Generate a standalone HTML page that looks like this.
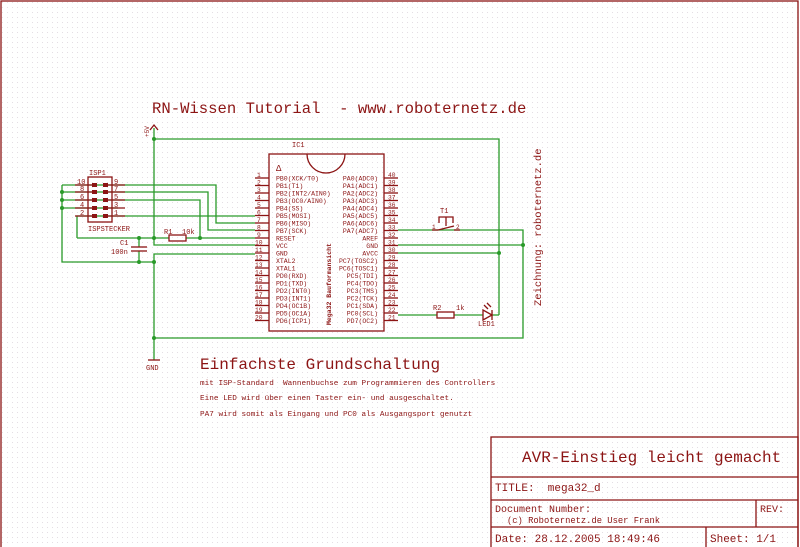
<!DOCTYPE html>
<html><head><meta charset="utf-8"><style>
html,body{margin:0;padding:0;background:#fff;}
svg{display:block;}
text{font-family:"Liberation Mono",monospace;fill:#8c1414;white-space:pre;}
.g{stroke:#2a9a2a;stroke-width:1.3;fill:none;}
.r{stroke:#8c1414;stroke-width:1.3;fill:none;}
</style></head><body>
<svg width="800" height="547" viewBox="0 0 800 547" xmlns="http://www.w3.org/2000/svg" xml:space="preserve">
<defs>
<pattern id="dots" width="5" height="5" patternUnits="userSpaceOnUse"><rect x="2" y="2" width="1" height="1" fill="#e4dde4"/></pattern>
</defs>
<rect x="0" y="0" width="800" height="547" fill="url(#dots)"/>
<rect x="1" y="1" width="797" height="560" class="r" stroke-width="1.5"/>

<text x="152" y="113" font-size="15.6">RN-Wissen Tutorial  - www.roboternetz.de</text>

<g class="g">
<polyline points="154,128 154,245 255,245"/>
<polyline points="154,139 499,139 499,315"/>
<polyline points="62,185 62,262 154,262"/>
<polyline points="62,185 216,185 216,223 255,223"/>
<polyline points="62,192 208,192 208,230 255,230"/>
<polyline points="62,200 200,200 200,238"/>
<polyline points="62,208 118,208"/>
<polyline points="77,238 77,216 255,216"/>
<polyline points="77,238 169,238"/>
<polyline points="186,238 255,238"/>
<polyline points="139,238 139,247"/>
<polyline points="139,251 139,262"/>
<polyline points="154,360 154,254 255,254"/>
<polyline points="154,338 523,338 523,230 398,230"/>
<polyline points="398,245 523,245"/>
<polyline points="398,253 499,253"/>
<polyline points="398,315 437,315"/>
<polyline points="454,315 483,315"/>
<polyline points="492,315 499,315"/>
</g>
<g fill="#2a9a2a">
<circle cx="62" cy="192" r="2"/><circle cx="62" cy="200" r="2"/><circle cx="62" cy="208" r="2"/>
<circle cx="139" cy="238" r="2"/><circle cx="154" cy="238" r="2"/><circle cx="200" cy="238" r="2"/>
<circle cx="139" cy="262" r="2"/><circle cx="154" cy="262" r="2"/><circle cx="154" cy="139" r="2"/>
<circle cx="154" cy="338" r="2"/><circle cx="523" cy="245" r="2"/><circle cx="499" cy="253" r="2"/>
</g>

<path d="M150,130 L154,125 L158,130" class="r"/>
<text x="0" y="0" font-size="6" transform="translate(149,137) rotate(-90)">+5V</text>
<line x1="148" y1="360" x2="160" y2="360" class="r" stroke-width="2"/>
<text x="146" y="370" font-size="7">GND</text>

<rect x="88" y="177" width="24" height="45" class="r"/>
<g stroke="#8c1414" stroke-width="1.3">
<line x1="75" y1="185" x2="92" y2="185"/><line x1="75" y1="192" x2="92" y2="192"/><line x1="75" y1="200" x2="92" y2="200"/><line x1="75" y1="208" x2="92" y2="208"/><line x1="75" y1="216" x2="92" y2="216"/>
<line x1="108" y1="185" x2="125" y2="185"/><line x1="108" y1="192" x2="125" y2="192"/><line x1="108" y1="200" x2="125" y2="200"/><line x1="108" y1="208" x2="125" y2="208"/><line x1="108" y1="216" x2="125" y2="216"/>
</g>
<g fill="#8c1414">
<rect x="92" y="183" width="5" height="4"/><rect x="92" y="190" width="5" height="4"/><rect x="92" y="198" width="5" height="4"/><rect x="92" y="206" width="5" height="4"/><rect x="92" y="214" width="5" height="4"/>
<rect x="103" y="183" width="5" height="4"/><rect x="103" y="190" width="5" height="4"/><rect x="103" y="198" width="5" height="4"/><rect x="103" y="206" width="5" height="4"/><rect x="103" y="214" width="5" height="4"/>
</g>
<text x="89" y="175" font-size="7">ISP1</text>
<text x="88" y="231" font-size="7">ISPSTECKER</text>
<g font-size="7">
<text x="77" y="184">10</text><text x="80" y="191">8</text><text x="80" y="199">6</text><text x="80" y="207">4</text><text x="80" y="215">2</text>
<text x="114" y="184">9</text><text x="114" y="191">7</text><text x="114" y="199">5</text><text x="114" y="207">3</text><text x="114" y="215">1</text>
</g>

<rect x="169" y="235" width="17" height="6" class="r"/>
<text x="164" y="234" font-size="7">R1</text><text x="182" y="234" font-size="7">10k</text>
<line x1="131" y1="247" x2="147" y2="247" class="r" stroke-width="2"/>
<line x1="131" y1="251" x2="147" y2="251" class="r" stroke-width="2"/>
<text x="120" y="245" font-size="7">C1</text><text x="111" y="254" font-size="7">100n</text>

<text x="292" y="147" font-size="7">IC1</text>
<rect x="269" y="154" width="115" height="177" class="r"/>
<path d="M307,154 A19,19 0 0 0 345,154" class="r"/>
<text x="276" y="171" font-size="9">Δ</text>
<text font-size="6.5" font-weight="bold" transform="translate(331,325) rotate(-90)">Mega32 Bauformansicht</text>
<g stroke="#8c1414" stroke-width="1.3">
<line x1="255" y1="178" x2="269" y2="178"/><line x1="255" y1="185.5" x2="269" y2="185.5"/><line x1="255" y1="193" x2="269" y2="193"/><line x1="255" y1="200.5" x2="269" y2="200.5"/><line x1="255" y1="208" x2="269" y2="208"/><line x1="255" y1="215.5" x2="269" y2="215.5"/><line x1="255" y1="223" x2="269" y2="223"/><line x1="255" y1="230.5" x2="269" y2="230.5"/><line x1="255" y1="238" x2="269" y2="238"/><line x1="255" y1="245.5" x2="269" y2="245.5"/><line x1="255" y1="253" x2="269" y2="253"/><line x1="255" y1="260.5" x2="269" y2="260.5"/><line x1="255" y1="268" x2="269" y2="268"/><line x1="255" y1="275.5" x2="269" y2="275.5"/><line x1="255" y1="283" x2="269" y2="283"/><line x1="255" y1="290.5" x2="269" y2="290.5"/><line x1="255" y1="298" x2="269" y2="298"/><line x1="255" y1="305.5" x2="269" y2="305.5"/><line x1="255" y1="313" x2="269" y2="313"/><line x1="255" y1="320.5" x2="269" y2="320.5"/>
<line x1="384" y1="178" x2="398" y2="178"/><line x1="384" y1="185.5" x2="398" y2="185.5"/><line x1="384" y1="193" x2="398" y2="193"/><line x1="384" y1="200.5" x2="398" y2="200.5"/><line x1="384" y1="208" x2="398" y2="208"/><line x1="384" y1="215.5" x2="398" y2="215.5"/><line x1="384" y1="223" x2="398" y2="223"/><line x1="384" y1="230.5" x2="398" y2="230.5"/><line x1="384" y1="238" x2="398" y2="238"/><line x1="384" y1="245.5" x2="398" y2="245.5"/><line x1="384" y1="253" x2="398" y2="253"/><line x1="384" y1="260.5" x2="398" y2="260.5"/><line x1="384" y1="268" x2="398" y2="268"/><line x1="384" y1="275.5" x2="398" y2="275.5"/><line x1="384" y1="283" x2="398" y2="283"/><line x1="384" y1="290.5" x2="398" y2="290.5"/><line x1="384" y1="298" x2="398" y2="298"/><line x1="384" y1="305.5" x2="398" y2="305.5"/><line x1="384" y1="313" x2="398" y2="313"/><line x1="384" y1="320.5" x2="398" y2="320.5"/>
</g>
<g font-size="6.3">
<text x="257" y="177">1</text><text x="257" y="184.5">2</text><text x="257" y="192">3</text><text x="257" y="199.5">4</text><text x="257" y="207">5</text><text x="257" y="214.5">6</text><text x="257" y="222">7</text><text x="257" y="229.5">8</text><text x="257" y="237">9</text><text x="255" y="244.5">10</text><text x="255" y="252">11</text><text x="255" y="259.5">12</text><text x="255" y="267">13</text><text x="255" y="274.5">14</text><text x="255" y="282">15</text><text x="255" y="289.5">16</text><text x="255" y="297">17</text><text x="255" y="304.5">18</text><text x="255" y="312">19</text><text x="255" y="319.5">20</text>
<text x="388" y="177">40</text><text x="388" y="184.5">39</text><text x="388" y="192">38</text><text x="388" y="199.5">37</text><text x="388" y="207">36</text><text x="388" y="214.5">35</text><text x="388" y="222">34</text><text x="388" y="229.5">33</text><text x="388" y="237">32</text><text x="388" y="244.5">31</text><text x="388" y="252">30</text><text x="388" y="259.5">29</text><text x="388" y="267">28</text><text x="388" y="274.5">27</text><text x="388" y="282">26</text><text x="388" y="289.5">25</text><text x="388" y="297">24</text><text x="388" y="304.5">23</text><text x="388" y="312">22</text><text x="388" y="319.5">21</text>
</g>
<g font-size="6.5">
<text x="276" y="180.5">PB0(XCK/T0)</text><text x="276" y="188">PB1(T1)</text><text x="276" y="195.5">PB2(INT2/AIN0)</text><text x="276" y="203">PB3(OC0/AIN0)</text><text x="276" y="210.5">PB4(SS)</text><text x="276" y="218">PB5(MOSI)</text><text x="276" y="225.5">PB6(MISO)</text><text x="276" y="233">PB7(SCK)</text><text x="276" y="240.5">RESET</text><text x="276" y="248">VCC</text><text x="276" y="255.5">GND</text><text x="276" y="263">XTAL2</text><text x="276" y="270.5">XTAL1</text><text x="276" y="278">PD0(RXD)</text><text x="276" y="285.5">PD1(TXD)</text><text x="276" y="293">PD2(INT0)</text><text x="276" y="300.5">PD3(INT1)</text><text x="276" y="308">PD4(OC1B)</text><text x="276" y="315.5">PD5(OC1A)</text><text x="276" y="323">PD6(ICP1)</text>
</g>
<g font-size="6.5" text-anchor="end">
<text x="378" y="180.5">PA0(ADC0)</text><text x="378" y="188">PA1(ADC1)</text><text x="378" y="195.5">PA2(ADC2)</text><text x="378" y="203">PA3(ADC3)</text><text x="378" y="210.5">PA4(ADC4)</text><text x="378" y="218">PA5(ADC5)</text><text x="378" y="225.5">PA6(ADC6)</text><text x="378" y="233">PA7(ADC7)</text><text x="378" y="240.5">AREF</text><text x="378" y="248">GND</text><text x="378" y="255.5">AVCC</text><text x="378" y="263">PC7(TOSC2)</text><text x="378" y="270.5">PC6(TOSC1)</text><text x="378" y="278">PC5(TDI)</text><text x="378" y="285.5">PC4(TDO)</text><text x="378" y="293">PC3(TMS)</text><text x="378" y="300.5">PC2(TCK)</text><text x="378" y="308">PC1(SDA)</text><text x="378" y="315.5">PC0(SCL)</text><text x="378" y="323">PD7(OC2)</text>
</g>

<g class="r">
<polyline points="439,223 439,217 453,217 453,223"/>
<line x1="446" y1="217" x2="446" y2="226"/>
<line x1="432" y1="230" x2="438" y2="230"/>
<line x1="438" y1="230" x2="454" y2="226"/>
<line x1="454" y1="230" x2="460" y2="230"/>
</g>
<text x="440" y="213" font-size="7">T1</text>
<text x="432" y="229" font-size="6">1</text><text x="456" y="229" font-size="6">2</text>

<rect x="437" y="312" width="17" height="6" class="r"/>
<text x="433" y="310" font-size="7">R2</text><text x="456" y="310" font-size="7">1k</text>
<path d="M483,310 L483,320 L492,315 Z" class="r"/>
<line x1="492" y1="310" x2="492" y2="320" class="r"/>
<path d="M484,305 L488,309 M487,303 L491,307" class="r" stroke-width="1"/>
<text x="478" y="326" font-size="7">LED1</text>

<text font-size="10.5" transform="translate(541,306) rotate(-90)">Zeichnung: roboternetz.de</text>

<text x="200" y="369" font-size="16">Einfachste Grundschaltung</text>
<text x="200" y="385" font-size="7.7">mit ISP-Standard  Wannenbuchse zum Programmieren des Controllers</text>
<text x="200" y="400" font-size="7.7">Eine LED wird über einen Taster ein- und ausgeschaltet.</text>
<text x="200" y="416" font-size="7.7">PA7 wird somit als Eingang und PC0 als Ausgangsport genutzt</text>

<g class="r">
<rect x="491" y="437" width="307" height="115"/>
<line x1="491" y1="477" x2="798" y2="477"/>
<line x1="491" y1="500" x2="798" y2="500"/>
<line x1="491" y1="527" x2="798" y2="527"/>
<line x1="756" y1="500" x2="756" y2="527"/>
<line x1="706" y1="527" x2="706" y2="547"/>
</g>
<text x="522" y="462" font-size="16">AVR-Einstieg leicht gemacht</text>
<text x="495" y="491" font-size="11">TITLE:  mega32_d</text>
<text x="495" y="512" font-size="10">Document Number:</text>
<text x="507" y="523" font-size="8.8">(c) Roboternetz.de User Frank</text>
<text x="760" y="512" font-size="10">REV:</text>
<text x="495" y="542" font-size="11">Date: 28.12.2005 18:49:46</text>
<text x="710" y="542" font-size="11">Sheet: 1/1</text>
</svg>
</body></html>
